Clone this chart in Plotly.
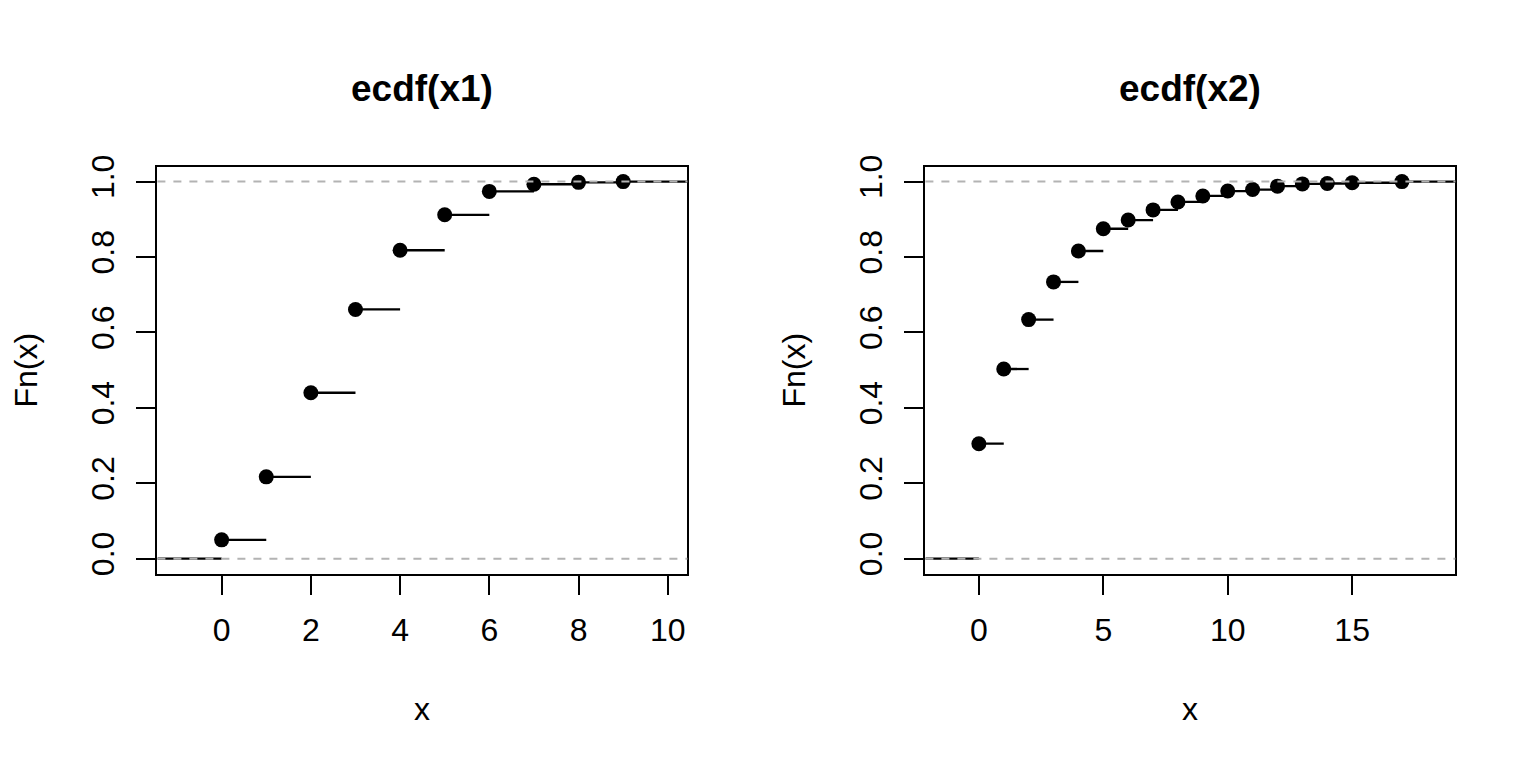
import plotly.graph_objects as go
import numpy as np

# ---- data ----
x1_knots = [0, 1, 2, 3, 4, 5, 6, 7, 8, 9]
x1_Fn = [0.050, 0.217, 0.440, 0.661, 0.818, 0.912, 0.974, 0.993, 0.998, 1.000]

x2_knots = [0, 1, 2, 3, 4, 5, 6, 7, 8, 9, 10, 11, 12, 13, 14, 15, 17]
x2_Fn = [0.305, 0.503, 0.634, 0.734, 0.816, 0.875, 0.898, 0.925, 0.946, 0.962,
         0.975, 0.979, 0.988, 0.994, 0.995, 0.997, 1.000]

titles = ["ecdf(x1)", "ecdf(x2)"]
x1_ticks = [0, 2, 4, 6, 8, 10]
x2_ticks = [0, 5, 10, 15]
y_ticks = [0.0, 0.2, 0.4, 0.6, 0.8, 1.0]

W, H = 1536, 768
FONT = "Liberation Sans, Arial, sans-serif"


def r_xlim(knots):
    k = np.asarray(knots, float)
    rng = k.max() - k.min()
    dr = max(0.08 * rng, np.median(np.diff(k)))
    lo, hi = k.min() - dr, k.max() + dr
    ext = 0.04 * (hi - lo)
    return [lo - ext, hi + ext]


fig = go.Figure()

panels = [
    (x1_knots, x1_Fn, x1_ticks, "x", "y"),
    (x2_knots, x2_Fn, x2_ticks, "x2", "y2"),
]

xdomains = [[157.4 / W, 687.4 / W], [925.4 / W, 1455.4 / W]]
ydomain = [1 - 572.2 / H, 1 - 157.4 / H]

for i, (kn, fn, xt, xa, ya) in enumerate(panels):
    lim = r_xlim(kn)
    # horizontal step segments
    sx, sy = [lim[0], kn[0], None], [0, 0, None]
    for j in range(len(kn)):
        nxt = kn[j + 1] if j + 1 < len(kn) else lim[1]
        sx += [kn[j], nxt, None]
        sy += [fn[j], fn[j], None]
    fig.add_trace(go.Scatter(x=sx, y=sy, mode="lines", xaxis=xa, yaxis=ya,
                             line=dict(color="black", width=2.3),
                             hoverinfo="skip", showlegend=False))
    fig.add_trace(go.Scatter(x=kn, y=fn, mode="markers", xaxis=xa, yaxis=ya,
                             marker=dict(color="black", size=15),
                             showlegend=False))
    for h in (0, 1):
        fig.add_shape(type="line", xref=f"{xa} domain", yref=ya,
                      x0=0, x1=1, y0=h, y1=h, layer="above",
                      line=dict(color="#B3B3B3", width=2, dash="8px,8px"))

    axkey = "xaxis" if xa == "x" else "xaxis2"
    aykey = "yaxis" if ya == "y" else "yaxis2"
    common = dict(showgrid=False, zeroline=False, showline=True, mirror=True,
                  linecolor="black", linewidth=2, ticks="outside", ticklen=19,
                  tickwidth=2, tickcolor="black",
                  tickfont=dict(family=FONT, size=32, color="black"))
    fig.update_layout({
        axkey: dict(domain=xdomains[i], range=lim, tickvals=xt,
                    ticktext=[str(v) for v in xt], anchor=ya,
                    ticklabelstandoff=8, **common),
        aykey: dict(domain=ydomain, range=[-0.04, 1.04], tickvals=y_ticks,
                    ticktext=[f"{v:.1f}" for v in y_ticks], anchor=xa,
                    tickangle=-90, ticklabelstandoff=10, **common),
    })

    cx = (xdomains[i][0] + xdomains[i][1]) / 2
    fig.add_annotation(text=f"<b>{titles[i]}</b>", xref="paper", yref="paper",
                       x=cx, y=1 - 78 / H, showarrow=False,
                       xanchor="center", yanchor="middle",
                       font=dict(family=FONT, size=37, color="black"))
    fig.add_annotation(text="x", xref="paper", yref="paper",
                       x=cx, y=1 - 710 / H, showarrow=False,
                       xanchor="center", yanchor="middle",
                       font=dict(family=FONT, size=32, color="black"))
    fig.add_annotation(text="Fn(x)", xref="paper", yref="paper",
                       x=(xdomains[i][0] * W - 131) / W, y=sum(ydomain) / 2,
                       textangle=-90, showarrow=False,
                       xanchor="center", yanchor="middle",
                       font=dict(family=FONT, size=32, color="black"))

fig.update_layout(width=W, height=H, margin=dict(l=0, r=0, t=0, b=0),
                  paper_bgcolor="white", plot_bgcolor="white",
                  showlegend=False)

fig.write_html("out.html", config={"displayModeBar": False},
               post_script="document.body.style.margin='0px';"
                           "document.body.style.overflow='hidden';")
